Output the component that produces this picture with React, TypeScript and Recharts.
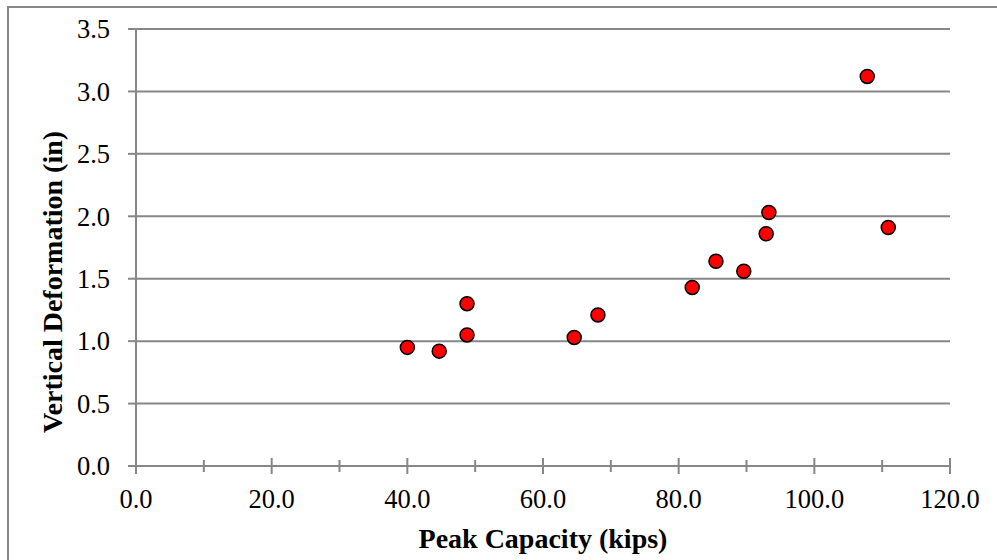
import React from 'react';
import { ScatterChart, Scatter, XAxis, YAxis, CartesianGrid } from 'recharts';

const peakCapacity = [40.0, 44.7, 48.8, 48.8, 64.6, 68.1, 82.0, 85.5, 89.6, 92.9, 93.3, 107.8, 110.9];
const verticalDeformation = [0.95, 0.92, 1.30, 1.05, 1.03, 1.21, 1.43, 1.64, 1.56, 1.86, 2.03, 3.12, 1.91];
const xTicks = [0, 10, 20, 30, 40, 50, 60, 70, 80, 90, 100, 110, 120];
const yTicks = [0, 0.5, 1.0, 1.5, 2.0, 2.5, 3.0, 3.5];

const data = peakCapacity.map((x, i) => ({ x, y: verticalDeformation[i] }));

const axisGrey = '#878787';
const serif = '"Liberation Serif", "Times New Roman", serif';

// x ticks cross the axis; labels only every 20
const XTick = (props: any) => {
  const { x, y, payload } = props;
  const major = payload.value % 20 === 0;
  const h = major ? 8 : 6;
  return (
    <g>
      <line x1={x} x2={x} y1={y - h} y2={y + h} stroke={axisGrey} strokeWidth={2} />
      {major && (
        <text x={x} y={y + 42} textAnchor="middle" fontFamily={serif} fontSize={26.5} fill="#000">
          {payload.value.toFixed(1)}
        </text>
      )}
    </g>
  );
};

const YTick = (props: any) => {
  const { x, y, payload } = props;
  return (
    <g>
      <line x1={x - 8} x2={x} y1={y} y2={y} stroke={axisGrey} strokeWidth={2} />
      <text x={x - 26} y={y} dy="0.35em" textAnchor="end" fontFamily={serif} fontSize={26.5} fill="#000">
        {payload.value.toFixed(1)}
      </text>
    </g>
  );
};

const YTitle = (props: any) => {
  const { viewBox } = props;
  const cx = viewBox.x + 52;
  const cy = 282;
  return (
    <text
      x={cx}
      y={cy}
      transform={`rotate(-90 ${cx} ${cy})`}
      textAnchor="middle"
      dominantBaseline="central"
      fontFamily={serif}
      fontWeight="bold"
      fontSize={28}
      fill="#000"
    >
      Vertical Deformation (in)
    </text>
  );
};

const XTitle = (props: any) => {
  const { viewBox } = props;
  const cx = viewBox.x + viewBox.width / 2;
  return (
    <text x={cx} y={548} textAnchor="middle" fontFamily={serif} fontWeight="bold" fontSize={28} fill="#000">
      Peak Capacity (kips)
    </text>
  );
};

const Dot = (props: any) => (
  <circle cx={props.cx} cy={props.cy} r={7} fill="#ff0000" stroke="#000" strokeWidth={1.5} />
);

export default function App() {
  return (
    <div style={{ position: 'absolute', left: 0, top: 0, width: 997, height: 560, background: '#fff', overflow: 'hidden' }}>
      <div style={{ position: 'absolute', left: 7, top: 6, width: 1100, height: 700, border: `2px solid ${axisGrey}` }} />
      <div style={{ position: 'absolute', left: 0, top: 0 }}>
        <ScatterChart width={997} height={560} margin={{ top: 29, right: 47, bottom: 0, left: 0 }}>
          <CartesianGrid horizontal vertical={false} stroke={axisGrey} strokeWidth={2} />
          <XAxis
            type="number"
            dataKey="x"
            domain={[0, 120]}
            ticks={xTicks}
            interval={0}
            height={94}
            tickSize={0}
            tickMargin={0}
            tickLine={false}
            tick={<XTick />}
            axisLine={{ stroke: axisGrey, strokeWidth: 2 }}
            label={<XTitle />}
          />
          <YAxis
            type="number"
            dataKey="y"
            domain={[0, 3.5]}
            ticks={yTicks}
            interval={0}
            width={136}
            tickSize={0}
            tickMargin={0}
            tickLine={false}
            tick={<YTick />}
            axisLine={{ stroke: axisGrey, strokeWidth: 2 }}
            label={<YTitle />}
          />
          <Scatter data={data} shape={<Dot />} isAnimationActive={false} />
        </ScatterChart>
      </div>
    </div>
  );
}
